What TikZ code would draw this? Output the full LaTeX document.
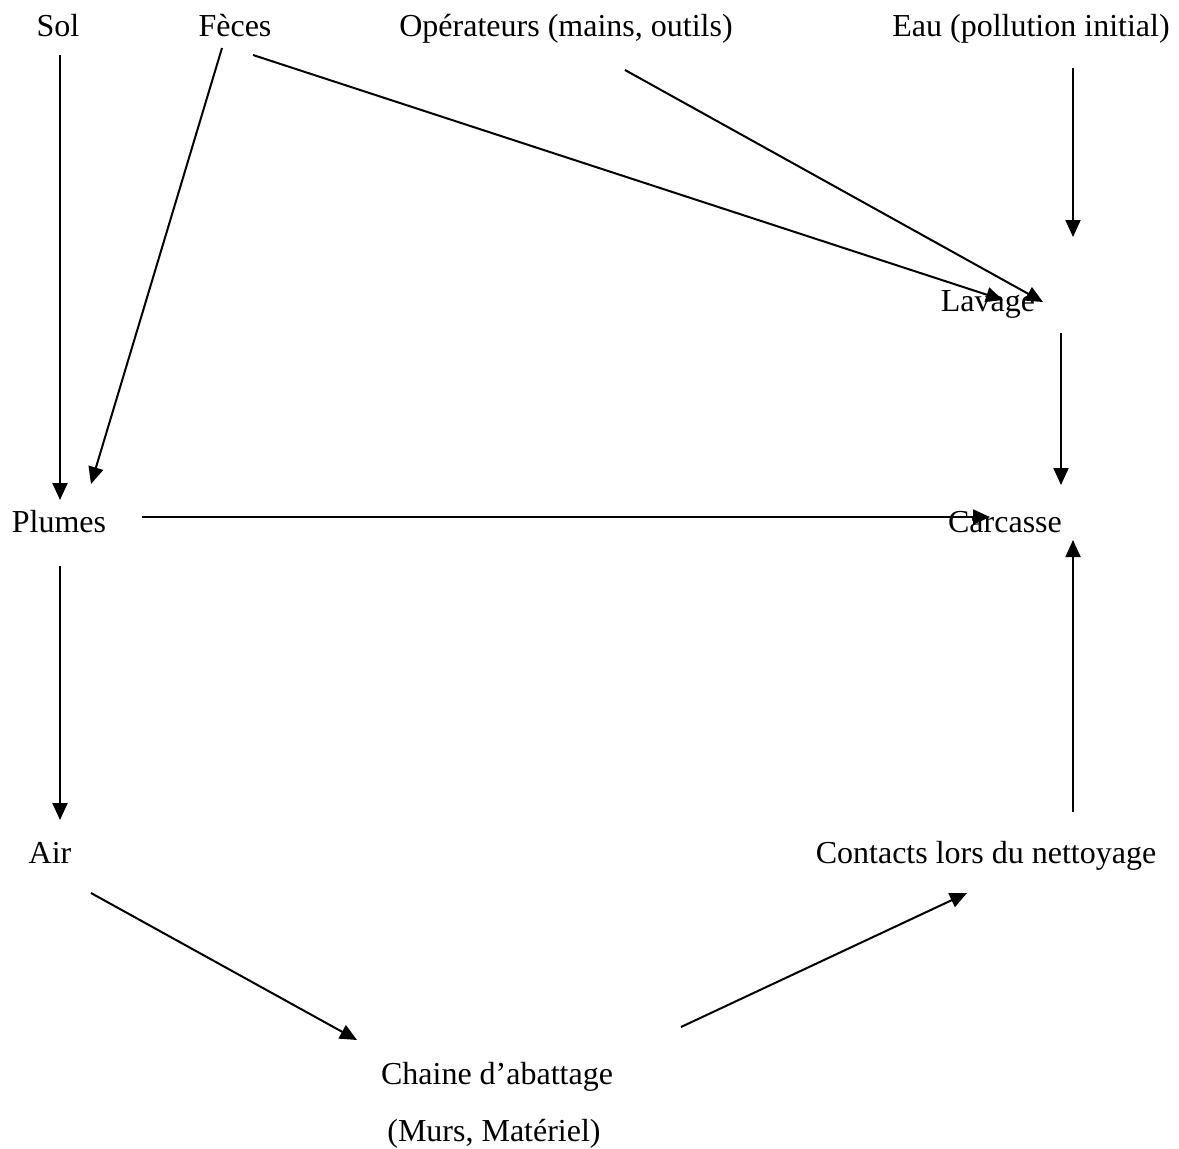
\documentclass[tikz,border=0pt]{standalone}
\usepackage{fontspec}
\setmainfont{Liberation Serif}
\usetikzlibrary{arrows.meta}
\begin{document}
\begin{tikzpicture}[x=1pt,y=-1pt,
  lbl/.style={anchor=base,inner sep=0pt,font=\fontsize{32}{38}\selectfont},
  flow/.style={line width=2pt,-{Triangle[length=17pt,width=15pt]}}]
\useasboundingbox (0,0) rectangle (1179,1149);
\fill[white] (0,0) rectangle (1179,1149);

% labels
\node[lbl] (sol)   at (58,36)   {Sol};
\node[lbl] (feces) at (235,36)  {Fèces};
\node[lbl] (oper)  at (566,36)  {Opérateurs (mains, outils)};
\node[lbl] (eau)   at (1031,36) {Eau (pollution initial)};
\node[lbl] (lav)   at (988,311) {Lavage};
\node[lbl] (plu)   at (59,532)  {Plumes};
\node[lbl] (carc)  at (1005,532) {Carcasse};
\node[lbl] (air)   at (50,863)  {Air};
\node[lbl] (cont)  at (986,863) {Contacts lors du nettoyage};
\node[lbl] (chain) at (497,1084) {Chaine d’abattage};
\node[lbl] (murs)  at (494,1141) {(Murs, Matériel)};

% connector ends
\coordinate (solOut)   at (60,55);
\coordinate (pluInA)   at (60,500);
\coordinate (fecOutA)  at (222,48);
\coordinate (pluInB)   at (91,484);
\coordinate (fecOutB)  at (253,55);
\coordinate (lavInA)   at (1003,300);
\coordinate (operOut)  at (625,70);
\coordinate (lavInB)   at (1043,302);
\coordinate (eauOut)   at (1073,68);
\coordinate (eauEnd)   at (1073,237);
\coordinate (lavOut)   at (1061,333);
\coordinate (carcInA)  at (1061,485);
\coordinate (pluOutA)  at (142,517);
\coordinate (carcInB)  at (990,517);
\coordinate (pluOutB)  at (60,566);
\coordinate (airIn)    at (60,820);
\coordinate (contOut)  at (1073,812);
\coordinate (carcInC)  at (1073,540);
\coordinate (airOut)   at (91,893);
\coordinate (chainIn)  at (357,1040);
\coordinate (chainOut) at (681,1027);
\coordinate (contIn)   at (967,893);

% connectors
\draw[flow] (solOut) -- (pluInA);
\draw[flow] (fecOutA) -- (pluInB);
\draw[flow] (fecOutB) -- (lavInA);
\draw[flow] (operOut) -- (lavInB);
\draw[flow] (eauOut) -- (eauEnd);
\draw[flow] (lavOut) -- (carcInA);
\draw[flow] (pluOutA) -- (carcInB);
\draw[flow] (pluOutB) -- (airIn);
\draw[flow] (contOut) -- (carcInC);
\draw[flow] (airOut) -- (chainIn);
\draw[flow] (chainOut) -- (contIn);
\end{tikzpicture}
\end{document}
